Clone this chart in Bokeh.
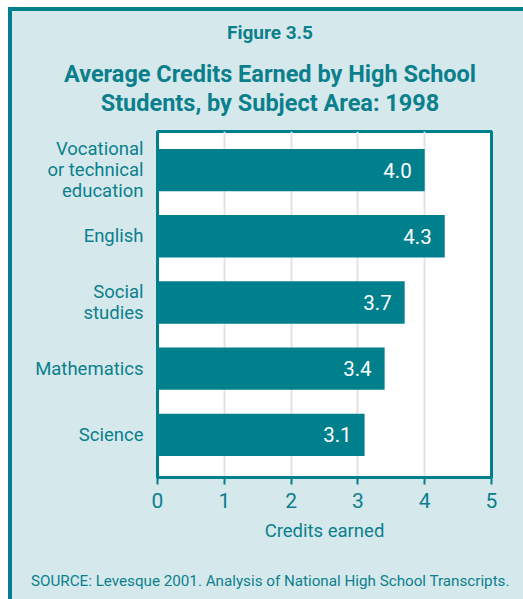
from bokeh.plotting import figure
from bokeh.models import ColumnDataSource, LabelSet, Div
from bokeh.layouts import column
from bokeh.core.properties import value
from bokeh.embed import file_html
from bokeh.resources import INLINE

categories = ["Vocational\nor technical\neducation", "English", "Social\nstudies", "Mathematics", "Science"]
values = [4.0, 4.3, 3.7, 3.4, 3.1]
x_ticks = [0, 1, 2, 3, 4, 5]
fig_number = "Figure 3.5"
title_lines = ["Average Credits Earned by High School", "Students, by Subject Area: 1998"]
x_label = "Credits earned"
source_note = "SOURCE: Levesque 2001. Analysis of National High School Transcripts."

TEAL = "#007f8c"
TXT = "#0b7f8c"
BG = "#d5e9ed"
FONT = "Roboto"
W = 511


def line_div(text, size, top, bold=True, left=0, width=516, align="center"):
    weight = "bold" if bold else "normal"
    return (f'<div style="position:absolute;left:{left}px;top:{top}px;width:{width}px;'
            f'text-align:{align};font-size:{size}px;line-height:{size}px;font-weight:{weight};'
            f'white-space:nowrap;margin:0;padding:0">{text}</div>')


# ---- header (titles) ----
head_html = ('<div style="position:relative;width:511px;height:117px;margin:0;padding:0;'
             f'font-family:{FONT};color:{TXT}">'
             + line_div(fig_number, 19, 12.0)
             + line_div(title_lines[0], 23.5, 52.2)
             + line_div(title_lines[1], 23.5, 81.2)
             + '</div>')
head = Div(text=head_html, width=W, height=117, margin=0,
           styles={"background-color": BG, "overflow": "visible"})

# ---- main chart ----
n = len(categories)
ypos = [n - 1 - i for i in range(n)]
src = ColumnDataSource(dict(y=ypos, val=values, lab=[f"{v:.1f}" for v in values]))

p = figure(width=W, height=432, output_backend="svg", toolbar_location=None,
           y_range=(-0.644, n - 1 + 0.583), x_range=(0, 5),
           min_border_left=145, min_border_right=32, min_border_top=3, min_border_bottom=83)
p.background_fill_color = "white"
p.border_fill_color = BG
p.outline_line_color = TEAL
p.outline_line_width = 3

p.hbar(y="y", right="val", left=0, height=0.64, source=src, color=TEAL, line_color=None)

p.add_layout(LabelSet(x="val", y="y", text="lab", source=src, x_offset=-13, text_align="right",
                      text_baseline="middle", text_color="white", text_font=value(FONT),
                      text_font_size="20.5px"))

p.xaxis.ticker = x_ticks
p.xaxis.axis_label = x_label
p.xaxis.axis_label_text_font_style = "normal"
p.xaxis.axis_label_text_font = FONT
p.xaxis.axis_label_text_font_size = "18.5px"
p.xaxis.axis_label_text_color = TXT
p.xaxis.axis_label_standoff = 9
p.xaxis.major_label_text_font = FONT
p.xaxis.major_label_text_font_size = "21px"
p.xaxis.major_label_text_color = TXT
p.xaxis.major_label_standoff = 8
p.xaxis.axis_line_color = TEAL
p.xaxis.axis_line_width = 3
p.xaxis.major_tick_line_color = TEAL
p.xaxis.major_tick_line_width = 2
p.xaxis.major_tick_in = 0
p.xaxis.major_tick_out = 7
p.xaxis.minor_tick_line_color = None

p.yaxis.ticker = ypos
p.yaxis.major_label_overrides = {y: c for y, c in zip(ypos, categories)}
p.yaxis.major_label_text_font = FONT
p.yaxis.major_label_text_font_size = "18.5px"
p.yaxis.major_label_text_color = TXT
p.yaxis.major_label_text_line_height = 0.96
p.yaxis.major_label_standoff = 8
p.yaxis.axis_line_color = TEAL
p.yaxis.axis_line_width = 3
p.yaxis.major_tick_line_color = None
p.yaxis.minor_tick_line_color = None

p.xgrid.grid_line_color = "#e2e2e2"
p.xgrid.grid_line_width = 2
p.ygrid.grid_line_color = None

# ---- footer (source) ----
foot_html = ('<div style="position:relative;width:511px;height:39px;margin:0;padding:0;'
             f'font-family:{FONT};color:{TXT}">'
             + line_div(source_note, 15.2, 13.7, bold=False, left=19, width=490, align="left")
             + '</div>')
foot = Div(text=foot_html, width=W, height=39, margin=0,
           styles={"background-color": BG, "overflow": "visible"})

layout = column(head, p, foot, spacing=0,
                styles={"margin-left": "8px", "margin-top": "7px", "background-color": BG,
                        "border-left": f"4px solid {TEAL}", "border-top": f"4px solid {TEAL}"})

open("out.html", "w").write(file_html(layout, INLINE))
